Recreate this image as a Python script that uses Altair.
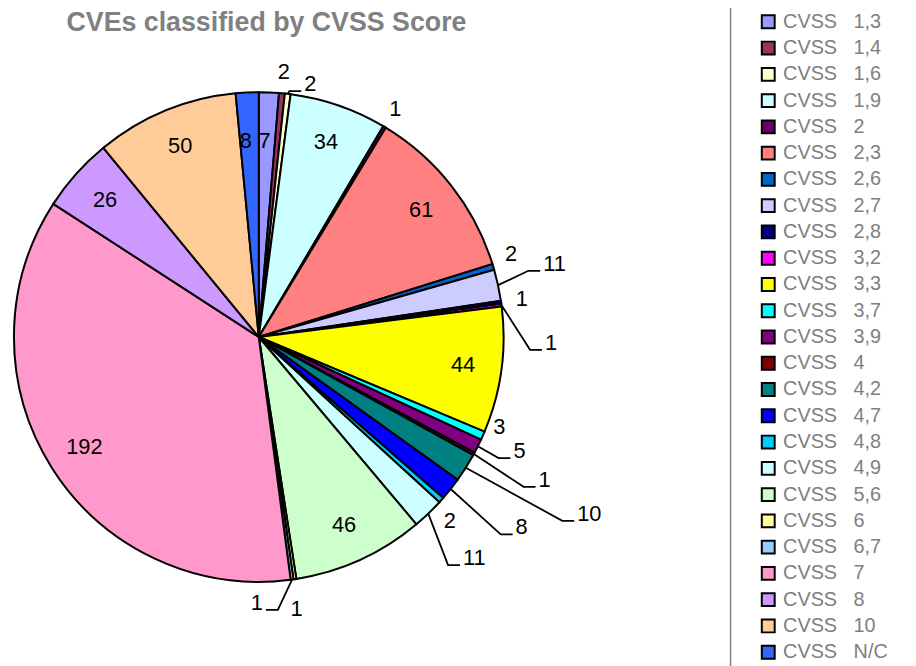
import math
import numpy as np
import pandas as pd
import altair as alt

# ---------------- data ----------------
scores = ["1,3", "1,4", "1,6", "1,9", "2", "2,3", "2,6", "2,7", "2,8", "3,2",
          "3,3", "3,7", "3,9", "4", "4,2", "4,7", "4,8", "4,9", "5,6", "6",
          "6,7", "7", "8", "10", "N/C"]
counts = [7, 2, 2, 34, 1, 61, 2, 11, 1, 1,
          44, 3, 5, 1, 10, 8, 2, 11, 46, 1,
          1, 192, 26, 50, 8]
colors = ["#9999FF", "#993366", "#FFFFCC", "#CCFFFF", "#660066", "#FF8080", "#0066CC",
          "#CCCCFF", "#000080", "#FF00FF", "#FFFF00", "#00FFFF", "#800080", "#800000",
          "#008080", "#0000FF", "#00CCFF", "#CCFFFF", "#CCFFCC", "#FFFF99", "#99CCFF",
          "#FF99CC", "#CC99FF", "#FFCC99", "#3366FF"]
title_text = "CVEs classified by CVSS Score"

# ---------------- layout (pixels) ----------------
NB = "\u00a0"
labels = ["CVSS" + NB * 3 + s for s in scores]

R = 247          # pie radius
R_IN = 208       # radius of labels inside slices
R_OUT = 268      # radius of labels just outside slices
INSIDE_MIN = 7   # slices of at least this value get an inside label
# labels nudged by the chart: (angle deg, radius px) of label centre
label_nudges = {"1,3": (1.7, 198), "N/C": (356.2, 198),
                "2,6": (71.8, 268), "3,7": (110.5, 259), "4,8": (134.0, 268),
                "6": (172.1, 277)}
# labels moved away by the chart, with a leader line: elbow (angle deg, radius px)
leader_elbows = {
    "1,6": (7.1, 250), "2,7": (76.2, 280), "3,2": (92.7, 274),
    "3,9": (116.8, 271), "4": (119.5, 307), "4,2": (121.2, 358),
    "4,7": (129.2, 315), "4,9": (140.3, 299), "6,7": (176.0, 276),
}

total = sum(counts)
cum = np.cumsum(counts)
mids = [(c - v / 2) / total * 360 for c, v in zip(cum, counts)]


def polar(a, r):
    t = math.radians(a)
    return r * math.sin(t), r * math.cos(t)


slices = pd.DataFrame({"idx": range(len(scores)), "label": labels, "value": counts})

centered, leader_txt, leader_pts = [], [], []
for i, (s, v, m) in enumerate(zip(scores, counts, mids)):
    if s in leader_elbows:
        ea, er = leader_elbows[s]
        x0, y0 = polar(m, R)
        x1, y1 = polar(ea, er)
        d = 1 if x1 >= x0 else -1
        leader_pts += [
            {"cat": s, "seq": 0, "x": x0, "y": y0},
            {"cat": s, "seq": 1, "x": x1, "y": y1},
            {"cat": s, "seq": 2, "x": x1 + d * 12, "y": y1},
        ]
        leader_txt.append({"txt": str(v), "x": x1 + d * 15, "y": y1,
                           "side": "right" if d > 0 else "left"})
    else:
        a, r = label_nudges.get(s, (m, R_IN if v >= INSIDE_MIN else R_OUT))
        x, y = polar(a, r)
        centered.append({"txt": str(v), "x": x, "y": y})

centered = pd.DataFrame(centered)
leader_txt = pd.DataFrame(leader_txt)
leader_pts = pd.DataFrame(leader_pts)

# 1 unit = 1 px, origin at pie centre
X = alt.Scale(domain=[-253, 655], nice=False, zero=False)
Y = alt.Scale(domain=[-329, 329], nice=False, zero=False)
FONT = "Liberation Sans"

pie = alt.Chart(slices).mark_arc(radius=R, stroke="black", strokeWidth=2).encode(
    theta=alt.Theta("value:Q", stack=True),
    order=alt.Order("idx:Q", sort="ascending"),
    color=alt.Color(
        "label:N",
        scale=alt.Scale(domain=labels, range=colors),
        legend=alt.Legend(
            title=None, orient="none", legendX=729, legendY=-33,
            symbolType="square", symbolSize=169, symbolStrokeColor="black",
            symbolStrokeWidth=2, symbolOffset=-6,
            labelFont=FONT, labelFontSize=20, labelColor="#808080",
            labelOffset=5, labelLimit=400, rowPadding=4.5, padding=34,
            strokeColor="#808080", fillColor="white",
        ),
    ),
    x=alt.XDatum(0, type="quantitative", scale=X, axis=None),
    y=alt.YDatum(0, type="quantitative", scale=Y, axis=None),
)

lines = alt.Chart(leader_pts).mark_line(color="black", strokeWidth=1.8).encode(
    x=alt.X("x:Q", scale=X, axis=None),
    y=alt.Y("y:Q", scale=Y, axis=None),
    detail="cat:N",
    order="seq:Q",
)

txt_c = alt.Chart(centered).mark_text(
    font=FONT, fontSize=22, color="black", align="center", baseline="middle"
).encode(x=alt.X("x:Q", scale=X, axis=None), y=alt.Y("y:Q", scale=Y, axis=None), text="txt:N")

txt_r = alt.Chart(leader_txt).transform_filter(alt.datum.side == "right").mark_text(
    font=FONT, fontSize=22, color="black", align="left", baseline="alphabetic"
).encode(x=alt.X("x:Q", scale=X, axis=None), y=alt.Y("y:Q", scale=Y, axis=None), text="txt:N")

txt_l = alt.Chart(leader_txt).transform_filter(alt.datum.side == "left").mark_text(
    font=FONT, fontSize=22, color="black", align="right", baseline="alphabetic"
).encode(x=alt.X("x:Q", scale=X, axis=None), y=alt.Y("y:Q", scale=Y, axis=None), text="txt:N")

chart = alt.layer(pie, lines, txt_c, txt_r, txt_l).properties(
    width=908,
    height=658,
    padding=0,
    autosize=alt.AutoSizeParams(type="none"),
    title=alt.TitleParams(
        text=title_text, font=FONT, fontSize=27, fontWeight="bold", color="#808080",
        anchor="start", frame="group", baseline="alphabetic", offset=0, dx=59, dy=81,
    ),
).configure_view(strokeWidth=0).configure_legend(strokeWidth=1.5)

chart.save("out.html", embed_options={"renderer": "svg", "actions": False})
